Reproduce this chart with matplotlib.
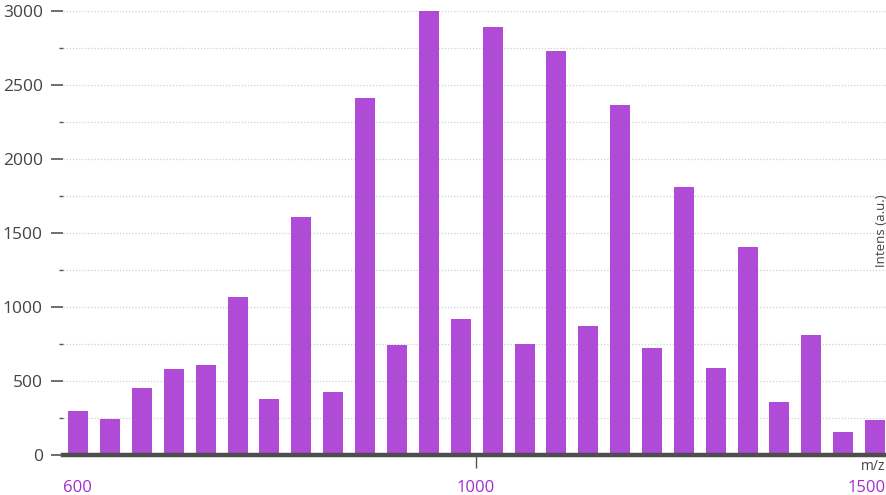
import matplotlib
matplotlib.use("Agg")
import matplotlib.pyplot as plt
from matplotlib.ticker import MultipleLocator

plt.rcParams['font.family'] = ['Open Sans', 'DejaVu Sans']

BAR_COLOR = "#b04bd8"
TEXT_COLOR = "#444444"
LABEL_PURPLE = "#a52bcc"

# peak positions (m/z) and intensities (a.u.)
mz = [602, 634, 666, 698, 730, 762, 793, 825, 857, 889, 921, 953, 985,
      1017, 1049, 1080, 1112, 1144, 1176, 1208, 1240, 1272, 1303, 1335, 1367, 1399]
intens = [300, 240, 450, 580, 605, 1065, 380, 1610, 425, 2410, 740, 3000, 920,
          2895, 750, 2730, 870, 2365, 720, 1810, 585, 1405, 355, 810, 155, 235]

range_labels = ["600", "1000", "1500"]

fig = plt.figure(figsize=(8.87, 4.95), dpi=100)
ax = fig.add_axes([63/887, 40/495, 824/887, 444/495])

ax.bar(mz, intens, width=19.5, color=BAR_COLOR, zorder=1)

ax.set_xlim(587, 1411)
ax.set_ylim(0, 3000)

ax.yaxis.set_major_locator(MultipleLocator(500))
ax.yaxis.set_minor_locator(MultipleLocator(250))
ax.tick_params(axis="y", which="major", length=8.5, width=1.2, color="#555555",
               labelsize=12.5, labelcolor=TEXT_COLOR, pad=6)
ax.tick_params(axis="y", which="minor", length=3, width=1.0, color="#555555")
ax.grid(axis="y", which="both", linestyle=(0, (1, 1.5)), linewidth=0.9,
        color="#7a7a7a", alpha=0.35)
ax.set_axisbelow(False)

ax.set_xticks([1000])
ax.set_xticklabels([""])
ax.tick_params(axis="x", which="major", length=9, width=1.0, color="#555555")

for side in ["top", "right", "left"]:
    ax.spines[side].set_visible(False)
ax.spines["bottom"].set_linewidth(3.2)
ax.spines["bottom"].set_color("#4d4d4d")

# x range labels
ax.text(0.0, -0.074, range_labels[0], transform=ax.transAxes, ha="left", va="center",
        fontsize=12, color=LABEL_PURPLE)
ax.text(1000, -0.074, range_labels[1], transform=ax.get_xaxis_transform(),
        ha="center", va="center", fontsize=12, color=LABEL_PURPLE)
ax.text(0.998, -0.074, range_labels[2], transform=ax.transAxes, ha="right", va="center",
        fontsize=12, color=LABEL_PURPLE)

ax.text(0.998, -0.027, "m/z", transform=ax.transAxes, ha="right", va="center",
        fontsize=10, color=TEXT_COLOR)
ax.text(0.993, 0.505, "Intens (a.u.)", transform=ax.transAxes, ha="center", va="center",
        rotation=90, fontsize=9.5, color=TEXT_COLOR)

fig.savefig("out.png", dpi=100)
